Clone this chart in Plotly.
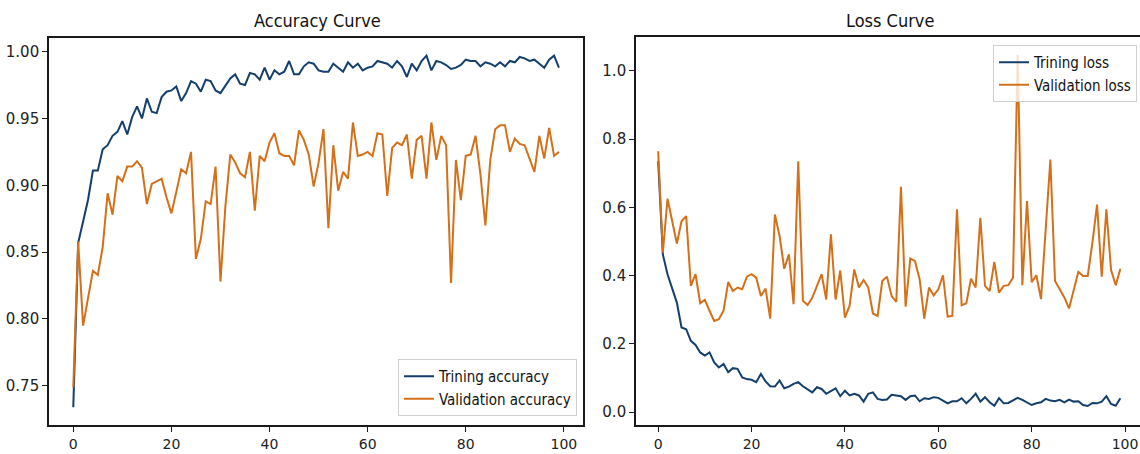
import plotly.graph_objects as go

epochs = list(range(100))

train_acc = [0.734, 0.857, 0.873, 0.889, 0.911, 0.911, 0.927, 0.930, 0.937, 0.940,
             0.948, 0.938, 0.951, 0.959, 0.950, 0.965, 0.955, 0.954, 0.966, 0.970,
             0.971, 0.974, 0.963, 0.969, 0.978, 0.976, 0.970, 0.979, 0.978, 0.971,
             0.969, 0.975, 0.980, 0.983, 0.976, 0.975, 0.984, 0.983, 0.979, 0.988,
             0.979, 0.986, 0.983, 0.985, 0.993, 0.983, 0.983, 0.989, 0.992, 0.991,
             0.986, 0.985, 0.985, 0.991, 0.988, 0.985, 0.992, 0.988, 0.991, 0.986,
             0.988, 0.989, 0.993, 0.992, 0.991, 0.988, 0.993, 0.989, 0.981, 0.991,
             0.986, 0.993, 0.997, 0.986, 0.993, 0.992, 0.990, 0.987, 0.988, 0.990,
             0.994, 0.993, 0.993, 0.989, 0.992, 0.991, 0.989, 0.992, 0.989, 0.993,
             0.992, 0.996, 0.995, 0.993, 0.994, 0.991, 0.988, 0.994, 0.997, 0.988]

val_acc = [0.749, 0.858, 0.795, 0.815, 0.836, 0.833, 0.854, 0.894, 0.878, 0.907,
           0.903, 0.914, 0.914, 0.918, 0.913, 0.886, 0.901, 0.903, 0.905, 0.891,
           0.879, 0.895, 0.912, 0.909, 0.925, 0.845, 0.860, 0.888, 0.886, 0.914,
           0.828, 0.884, 0.923, 0.917, 0.909, 0.906, 0.925, 0.881, 0.922, 0.918,
           0.932, 0.939, 0.924, 0.922, 0.922, 0.915, 0.941, 0.934, 0.923, 0.899,
           0.917, 0.942, 0.868, 0.930, 0.896, 0.910, 0.905, 0.947, 0.922, 0.923,
           0.925, 0.922, 0.939, 0.938, 0.892, 0.928, 0.932, 0.930, 0.938, 0.905,
           0.934, 0.937, 0.905, 0.947, 0.919, 0.937, 0.930, 0.827, 0.919, 0.889,
           0.922, 0.923, 0.937, 0.908, 0.870, 0.919, 0.942, 0.945, 0.945, 0.925,
           0.935, 0.931, 0.930, 0.920, 0.910, 0.937, 0.920, 0.943, 0.922, 0.925]

train_loss = [0.735, 0.462, 0.404, 0.365, 0.321, 0.248, 0.243, 0.209, 0.197, 0.175,
              0.166, 0.175, 0.146, 0.131, 0.141, 0.117, 0.129, 0.127, 0.102, 0.097,
              0.095, 0.088, 0.112, 0.090, 0.076, 0.075, 0.093, 0.070, 0.075, 0.083,
              0.088, 0.076, 0.066, 0.058, 0.073, 0.068, 0.054, 0.063, 0.070, 0.047,
              0.063, 0.049, 0.054, 0.049, 0.031, 0.054, 0.058, 0.039, 0.036, 0.037,
              0.051, 0.049, 0.047, 0.036, 0.047, 0.049, 0.032, 0.041, 0.039, 0.044,
              0.042, 0.034, 0.026, 0.032, 0.032, 0.041, 0.026, 0.039, 0.054, 0.031,
              0.044, 0.029, 0.019, 0.041, 0.026, 0.027, 0.034, 0.042, 0.036, 0.029,
              0.021, 0.026, 0.029, 0.039, 0.034, 0.032, 0.036, 0.029, 0.037, 0.031,
              0.032, 0.021, 0.018, 0.027, 0.026, 0.031, 0.047, 0.024, 0.019, 0.041]

val_loss = [0.764, 0.467, 0.625, 0.559, 0.494, 0.559, 0.574, 0.370, 0.404, 0.319,
            0.329, 0.297, 0.267, 0.272, 0.297, 0.381, 0.355, 0.365, 0.360, 0.397,
            0.404, 0.394, 0.340, 0.362, 0.274, 0.579, 0.516, 0.420, 0.462, 0.316,
            0.735, 0.326, 0.314, 0.335, 0.370, 0.404, 0.330, 0.521, 0.330, 0.415,
            0.277, 0.312, 0.418, 0.365, 0.387, 0.365, 0.289, 0.282, 0.384, 0.397,
            0.340, 0.323, 0.660, 0.309, 0.450, 0.443, 0.389, 0.274, 0.365, 0.342,
            0.360, 0.401, 0.280, 0.282, 0.594, 0.313, 0.319, 0.391, 0.365, 0.569,
            0.370, 0.355, 0.440, 0.350, 0.370, 0.372, 0.394, 1.047, 0.372, 0.618,
            0.381, 0.401, 0.331, 0.535, 0.740, 0.384, 0.360, 0.336, 0.304, 0.360,
            0.411, 0.399, 0.399, 0.496, 0.608, 0.397, 0.594, 0.416, 0.372, 0.420]

x_ticks = [0, 20, 40, 60, 80, 100]
acc_ticks = [0.75, 0.80, 0.85, 0.90, 0.95, 1.00]
loss_ticks = [0.0, 0.2, 0.4, 0.6, 0.8, 1.0]

BLUE = "#143e6c"
ORANGE = "#d4701a"
W, H = 1140, 454
Y_TICK_FONT = dict(family="DejaVu Sans", size=15, color="#222222")
X_TICK_FONT = dict(family="DejaVu Sans", size=14, color="#222222")
NARROW = "DejaVu Sans Condensed, sans-serif"

fig = go.Figure()
fig.add_trace(go.Scatter(x=epochs, y=train_acc, mode="lines", name="Trining accuracy",
                         line=dict(color=BLUE, width=2), xaxis="x", yaxis="y", legend="legend"))
fig.add_trace(go.Scatter(x=epochs, y=val_acc, mode="lines", name="Validation accuracy",
                         line=dict(color=ORANGE, width=2), xaxis="x", yaxis="y", legend="legend"))
fig.add_trace(go.Scatter(x=epochs, y=train_loss, mode="lines", name="Trining loss",
                         line=dict(color=BLUE, width=2), xaxis="x2", yaxis="y2", legend="legend2"))
fig.add_trace(go.Scatter(x=epochs, y=val_loss, mode="lines", name="Validation loss",
                         line=dict(color=ORANGE, width=2), xaxis="x2", yaxis="y2", legend="legend2"))

def px_x(p):
    return p / W

def px_y(p):
    return (H - p) / H

axis_common = dict(showline=True, linecolor="#1a1a1a", linewidth=1.6, showgrid=False,
                   zeroline=False, ticks="outside", ticklen=5, tickwidth=1.2,
                   tickcolor="#1a1a1a", automargin=False)

legend_common = dict(xanchor="right", yanchor="top",
                     bgcolor="rgba(255,255,255,0.8)", bordercolor="#cfcfcf", borderwidth=1,
                     font=dict(family=NARROW, size=15, color="#111111"), itemwidth=30,
                     tracegroupgap=0)

fig.update_layout(
    width=W, height=H,
    margin=dict(l=0, r=0, t=0, b=0),
    paper_bgcolor="white", plot_bgcolor="white",
    xaxis=dict(domain=[px_x(49), px_x(583)], range=[-4.95, 103.9], tickvals=x_ticks,
               mirror=True, anchor="y", ticklabelstandoff=0, tickfont=X_TICK_FONT,
               **axis_common),
    yaxis=dict(domain=[px_y(425), px_y(38)], range=[0.7207, 1.0102], tickvals=acc_ticks,
               ticktext=[f"{v:.2f}" for v in acc_ticks], mirror=True, anchor="x",
               tickfont=Y_TICK_FONT, **axis_common),
    xaxis2=dict(domain=[px_x(636), 1.0], range=[-4.75, 103.2], tickvals=x_ticks,
                mirror=True, anchor="y2", ticklabelstandoff=0, tickfont=X_TICK_FONT,
                **axis_common),
    yaxis2=dict(domain=[px_y(425), px_y(37)], range=[-0.0375, 1.0987], tickvals=loss_ticks,
                ticktext=[f"{v:.1f}" for v in loss_ticks], mirror=False, anchor="x2",
                tickfont=Y_TICK_FONT, **axis_common),
    legend=dict(x=px_x(577), y=px_y(359), **legend_common),
    legend2=dict(x=px_x(1137), y=px_y(45), **legend_common),
    annotations=[
        dict(text="Accuracy Curve", x=px_x(317), y=px_y(20), xref="paper", yref="paper",
             showarrow=False, xanchor="center", yanchor="middle",
             font=dict(family=NARROW, size=18, color="#111111")),
        dict(text="Loss Curve", x=px_x(890), y=px_y(20), xref="paper", yref="paper",
             showarrow=False, xanchor="center", yanchor="middle",
             font=dict(family=NARROW, size=18, color="#111111")),
    ],
)

fig.write_html("out.html")
